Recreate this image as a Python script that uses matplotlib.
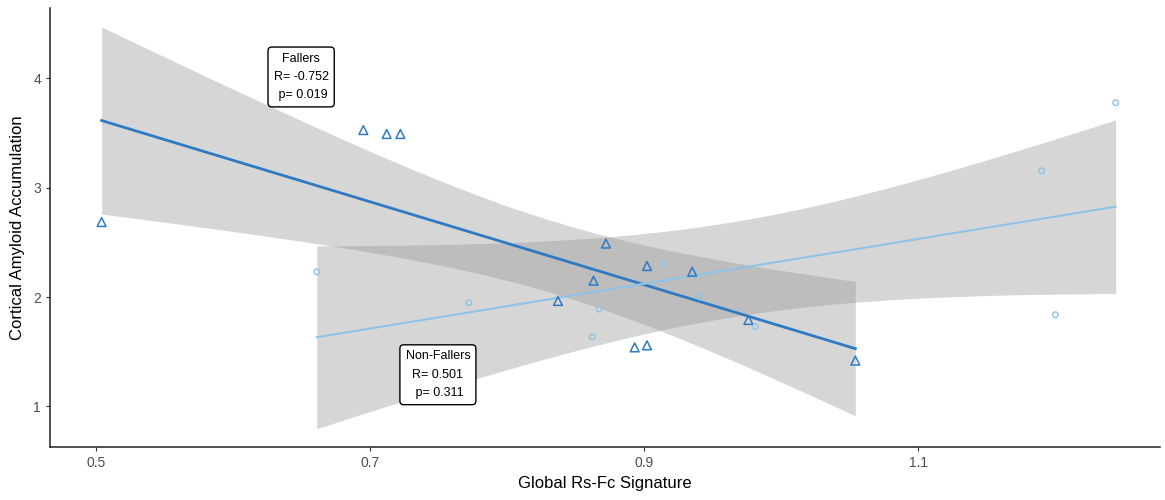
import matplotlib
matplotlib.use("Agg")
import matplotlib.pyplot as plt
import numpy as np

plt.rcParams['font.family'] = ['Liberation Sans', 'DejaVu Sans']

# fallers (triangles)
fall_x = [0.504, 0.695, 0.712, 0.722, 0.872, 0.902, 0.935, 0.863, 0.837, 0.976, 0.893, 0.902, 1.054]
fall_y = [2.685, 3.525, 3.489, 3.489, 2.488, 2.283, 2.231, 2.149, 1.964, 1.790, 1.540, 1.559, 1.419]

# non-fallers (circles)
non_x = [0.661, 0.772, 0.913, 0.940, 0.867, 0.862, 0.981, 1.190, 1.200, 1.244]
non_y = [2.231, 1.948, 2.301, 2.003, 1.890, 1.635, 1.729, 3.153, 1.838, 3.775]

fall_label = "Fallers\nR= -0.752\n p= 0.019"
non_label = "Non-Fallers\nR= 0.501\n p= 0.311"

xticks = [0.5, 0.7, 0.9, 1.1]
yticks = [1, 2, 3, 4]

fall_col = '#2e7bc4'
non_col = '#8fc3e6'

# t quantiles (97.5%) for n-2 degrees of freedom
t975 = {8: 2.306, 11: 2.201}


def lm_band(x, y):
    x = np.asarray(x)
    y = np.asarray(y)
    n = len(x)
    b, a = np.polyfit(x, y, 1)
    xs = np.linspace(x.min(), x.max(), 80)
    fit = a + b * xs
    resid = y - (a + b * x)
    s = np.sqrt(np.sum(resid ** 2) / (n - 2))
    se = s * np.sqrt(1 / n + (xs - x.mean()) ** 2 / np.sum((x - x.mean()) ** 2))
    t = t975[n - 2]
    return xs, fit, fit - t * se, fit + t * se


fig = plt.figure(figsize=(11.65, 5), dpi=100)
ax = fig.add_axes([0.043, 0.106, 0.953, 0.878])

for xd, yd, col, lw in [(fall_x, fall_y, fall_col, 2.0), (non_x, non_y, non_col, 1.5)]:
    xs, fit, lo, hi = lm_band(xd, yd)
    ax.fill_between(xs, lo, hi, color='#999999', alpha=0.4, linewidth=0)
    ax.plot(xs, fit, color=col, lw=lw, zorder=3)

ax.scatter(fall_x, fall_y, marker='^', s=40, facecolors='none', edgecolors=fall_col, linewidths=1.1, zorder=4)
ax.scatter(non_x, non_y, marker='o', s=16, facecolors='none', edgecolors=non_col, linewidths=1.0, zorder=4)

box = dict(boxstyle='round,pad=0.45,rounding_size=0.3', fc='white', ec='black', lw=1)
ax.text(0.6496, 4.01, fall_label, ha='center', va='center', fontsize=9, linespacing=1.7, bbox=box, zorder=5)
ax.text(0.7494, 1.29, non_label, ha='center', va='center', fontsize=9, linespacing=1.7, bbox=box, zorder=5)

ax.set_xlim(0.4664, 1.2766)
ax.set_ylim(0.63, 4.64)
ax.set_xticks(xticks)
ax.set_xticklabels([str(v) for v in xticks])
ax.set_yticks(yticks)
ax.tick_params(colors='#4d4d4d', labelsize=10, length=3)
ax.tick_params(axis='both', color='#333333')
for sp in ['top', 'right']:
    ax.spines[sp].set_visible(False)
for sp in ['left', 'bottom']:
    ax.spines[sp].set_color('#222222')
    ax.spines[sp].set_linewidth(1.1)

ax.set_xlabel('Global Rs-Fc Signature', fontsize=12, labelpad=4)
ax.set_ylabel('Cortical Amyloid Accumulation', fontsize=12, labelpad=6)

fig.savefig('out.png', dpi=100)
